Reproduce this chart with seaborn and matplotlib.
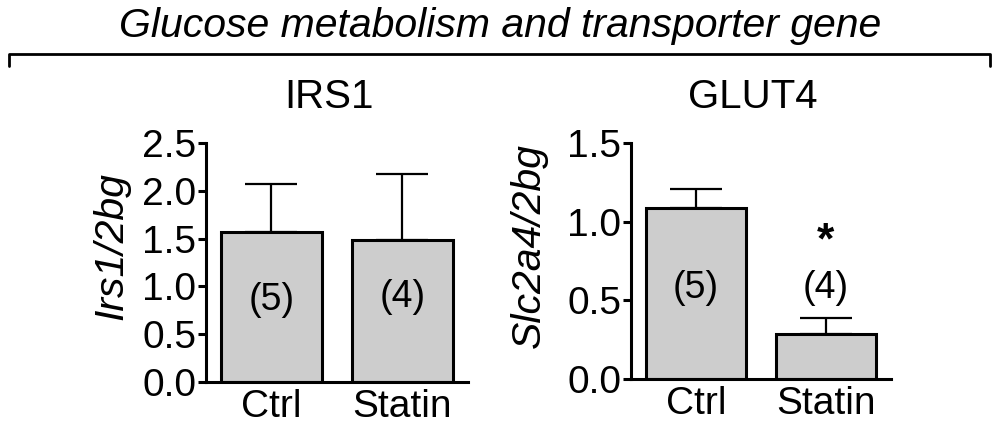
import matplotlib
matplotlib.use("Agg")
import matplotlib.pyplot as plt
from matplotlib.lines import Line2D
import seaborn as sns
import pandas as pd

# ---- data ----
categories = ["Ctrl", "Statin"]
irs1_mean = [1.57, 1.49]
irs1_sem = [0.50, 0.69]
glut4_mean = [1.09, 0.285]
glut4_sem = [0.12, 0.10]
irs1_n = ["(5)", "(4)"]
glut4_n = ["(5)", "(4)"]
glut4_sig = ["", "*"]
irs1_ticks = [0.0, 0.5, 1.0, 1.5, 2.0, 2.5]
glut4_ticks = [0.0, 0.5, 1.0, 1.5]

sns.set_theme(style="ticks")
plt.rcParams["font.family"] = ["Liberation Sans", "DejaVu Sans"]
plt.rcParams.update({"text.color": "black", "axes.labelcolor": "black",
                     "xtick.color": "black", "ytick.color": "black",
                     "axes.edgecolor": "black"})

fig = plt.figure(figsize=(10, 4.32), dpi=100)

BAR_COLOR = "#cdcdcd"
LW = 2.2


def panel(rect, mean, sem, ticks, ylabel, ylab_xy, title, title_x,
          nlabels, nlabel_y, sig=None, sig_y=None):
    ax = fig.add_axes(rect)
    df = pd.DataFrame({"group": categories, "value": mean})
    sns.barplot(data=df, x="group", y="value", order=categories, color=BAR_COLOR,
                saturation=1, width=0.77, edgecolor="black", linewidth=LW,
                errorbar=None, ax=ax)
    xs = list(range(len(categories)))
    ax.errorbar(xs, mean, yerr=[[0] * len(sem), sem], fmt="none", ecolor="black",
                elinewidth=1.6, capsize=19, capthick=1.6, zorder=1)
    ax.set_xlim(-0.5, 1.5)
    ax.set_ylim(0, ticks[-1])
    ax.set_yticks(ticks)
    ax.set_yticklabels([f"{t:.1f}" for t in ticks])
    ax.set_xlabel("")
    ax.set_ylabel(ylabel, fontsize=29.5, style="italic", va="center")
    ax.yaxis.set_label_coords(*ylab_xy)
    sns.despine(ax=ax)
    for s in ["left", "bottom"]:
        ax.spines[s].set_linewidth(LW)
    ax.tick_params(axis="y", length=6, width=LW, labelsize=28, pad=1)
    ax.tick_params(axis="x", length=0, labelsize=28, pad=5)
    for x, lab, yy in zip(xs, nlabels, nlabel_y):
        ax.text(x, yy, lab, ha="center", va="center", fontsize=27)
    if sig is not None:
        for x, s in zip(xs, sig):
            if s:
                ax.text(x, sig_y, s, ha="center", va="center", fontsize=32, fontweight="bold")
    fig.text(title_x, 1 - 108 / 432, title, ha="center", va="baseline", fontsize=29)
    return ax


panel([0.206, 0.1164, 0.2617, 0.552], irs1_mean, irs1_sem, irs1_ticks,
      "Irs1/2bg", (-0.362, 0.569), "IRS1", 0.329, irs1_n, [0.86, 0.89])
panel([0.631, 0.1227, 0.2597, 0.546], glut4_mean, glut4_sem, glut4_ticks,
      "Slc2a4/2bg", (-0.393, 0.566), "GLUT4", 0.753, glut4_n, [0.58, 0.58],
      glut4_sig, 0.87)

# bracket and group title
ytop = 1 - 54 / 432
ydown = 1 - 66 / 432
fig.add_artist(Line2D([0.009, 0.009, 0.990, 0.990], [ydown, ytop, ytop, ydown],
                      color="black", lw=2.0, transform=fig.transFigure))
fig.text(0.5, 1 - 37 / 432, "Glucose metabolism and transporter gene",
         ha="center", va="baseline", fontsize=29.5, style="italic")

fig.savefig("out.png", dpi=100)
